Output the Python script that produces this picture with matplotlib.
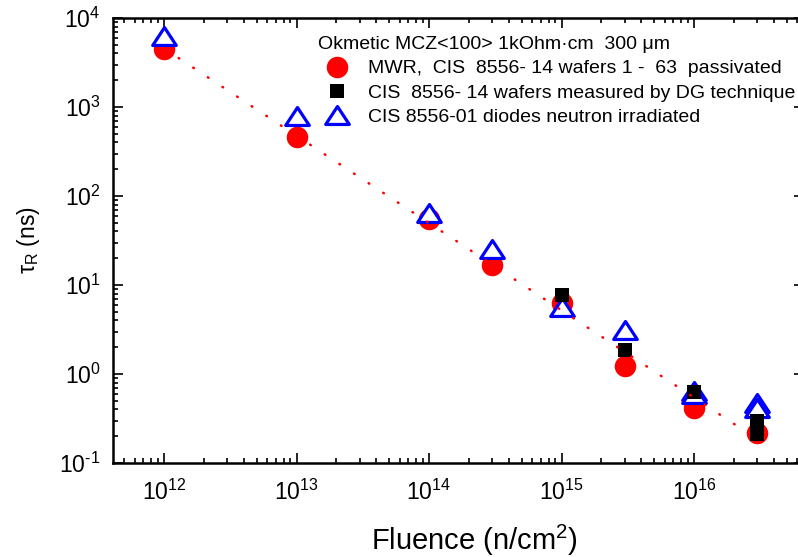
import matplotlib
matplotlib.use("Agg")
import matplotlib.pyplot as plt
import numpy as np
from matplotlib.path import Path
from matplotlib.ticker import LogLocator, NullFormatter, FuncFormatter

# ---- data ----
fluence_mwr = [1e12, 1e13, 1e14, 3e14, 1e15, 3e15, 1e16, 3e16]
tau_mwr = [4.5e3, 460, 54.5, 16.6, 6.3, 1.23, 0.415, 0.217]

fluence_dg = [1e15, 3e15, 1e16, 3e16, 3e16]
tau_dg = [7.7, 1.86, 0.63, 0.30, 0.21]

fluence_diode = [1e12, 1e13, 1e14, 3e14, 1e15, 3e15, 1e16, 1e16, 3e16, 3e16]
tau_diode = [6.2e3, 790, 65, 25.5, 5.7, 3.1, 0.65, 0.59, 0.47, 0.41]

fit_fluence = [1e12, 3e16]
fit_tau = [4.55e3, 0.185]

legend_title = "Okmetic MCZ<100> 1kOhm\u00b7cm  300 \u03bcm"
label_mwr = "MWR,  CIS  8556- 14 wafers 1 -  63  passivated"
label_dg = "CIS  8556- 14 wafers measured by DG technique"
label_diode = "CIS 8556-01 diodes neutron irradiated"

plt.rcParams['font.family'] = ['Liberation Sans', 'DejaVu Sans']
plt.rcParams['mathtext.default'] = 'regular'
plt.rcParams['axes.unicode_minus'] = False

fig = plt.figure(figsize=(7.98, 5.57), dpi=100)
W, H = 798, 557
x0, x1, y0, y1 = 113, 804, 18, 463
ax = fig.add_axes([x0 / W, 1 - y1 / H, (x1 - x0) / W, (y1 - y0) / H])

tri = Path([(0, 0.76), (-1, -0.76), (1, -0.76), (0, 0.76)],
           [Path.MOVETO, Path.LINETO, Path.LINETO, Path.CLOSEPOLY])

h1, = ax.plot(fluence_mwr, tau_mwr, 'o', color='#ff0000', markersize=15.5,
              markeredgewidth=0, linestyle='none', zorder=2, label=label_mwr)
h3, = ax.plot(fluence_diode, tau_diode, marker=tri, markersize=17,
              markerfacecolor='white', markeredgecolor='#0000ff',
              markeredgewidth=2.3, linestyle='none', zorder=3, label=label_diode)
h2, = ax.plot(fluence_dg, tau_dg, 's', color='black', markersize=10.5,
              markeredgewidth=0, linestyle='none', zorder=4, label=label_dg)
ax.plot(fit_fluence, fit_tau, color='#ff0000', linewidth=1.8,
        linestyle=(0, (0.3, 6.7)), dash_capstyle='round', zorder=5)

ax.set_xscale('log')
ax.set_yscale('log')
ax.set_xlim(10 ** 11.615, 10 ** 16.83)
ax.set_ylim(1e-1, 1e4)


def pow_label(v, pos):
    e = int(round(np.log10(v)))
    s = str(e).replace('-', '\u2010')
    return '$10^{' + s + '}$'


ax.xaxis.set_major_locator(LogLocator(base=10, numticks=20))
ax.yaxis.set_major_locator(LogLocator(base=10, numticks=20))
ax.xaxis.set_major_formatter(FuncFormatter(pow_label))
ax.yaxis.set_major_formatter(FuncFormatter(pow_label))
ax.xaxis.set_minor_locator(LogLocator(base=10, subs=range(2, 10), numticks=20))
ax.yaxis.set_minor_locator(LogLocator(base=10, subs=range(2, 10), numticks=20))
ax.xaxis.set_minor_formatter(NullFormatter())
ax.yaxis.set_minor_formatter(NullFormatter())

for s in ax.spines.values():
    s.set_linewidth(1.8)
ax.tick_params(which='both', direction='in', top=True, right=True, width=1.2)
ax.tick_params(which='major', length=7, labelsize=16.5)
ax.tick_params(axis='x', which='major', pad=12)
ax.tick_params(axis='y', which='major', pad=9)
ax.tick_params(which='minor', length=3.5)

ax.set_xlabel('Fluence (n/cm$^2$)', fontsize=21)
ax.xaxis.set_label_coords((474.5 - x0) / (x1 - x0), (y1 - 523) / (y1 - y0))
ax.set_ylabel('$\u03c4_R$ (ns)', fontsize=16.5)
ax.yaxis.set_label_coords((42 - x0) / (x1 - x0), 0.5)

leg = ax.legend(handles=[h1, h2, h3], title=legend_title, loc='upper left',
                bbox_to_anchor=(318 / W, 1 - 36 / H), bbox_transform=fig.transFigure,
                frameon=False, fontsize=14, title_fontsize=14, alignment='left',
                handlelength=1.95, handletextpad=0.62, labelspacing=0.35,
                borderpad=0, borderaxespad=0)

fig.savefig('out.png', dpi=100)
